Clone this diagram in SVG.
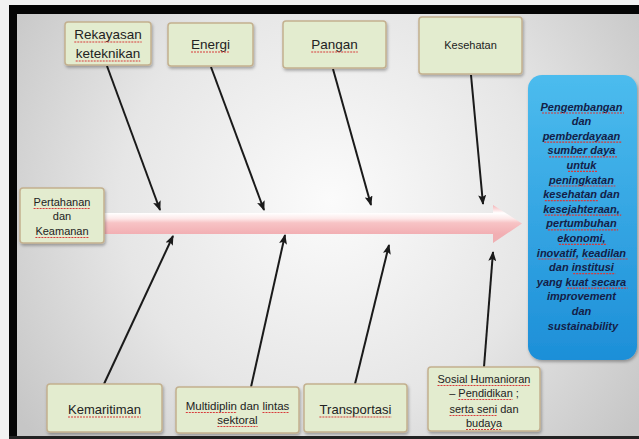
<svg xmlns="http://www.w3.org/2000/svg" width="639" height="439" viewBox="0 0 639 439">
<defs>
<radialGradient id="bg" cx="330" cy="200" r="380" gradientUnits="userSpaceOnUse">
<stop offset="0" stop-color="#fbfbfb"/>
<stop offset="0.55" stop-color="#e6e6e6"/>
<stop offset="1" stop-color="#c6c6c6"/>
</radialGradient>
<linearGradient id="arr" x1="0" y1="205" x2="0" y2="243" gradientUnits="userSpaceOnUse">
<stop offset="0" stop-color="#f3b4b7"/>
<stop offset="0.21" stop-color="#ffffff"/>
<stop offset="0.36" stop-color="#fde9e9"/>
<stop offset="0.47" stop-color="#f7c3c5"/>
<stop offset="0.76" stop-color="#f2afb3"/>
<stop offset="1" stop-color="#eeb0b3"/>
</linearGradient>
<linearGradient id="blue" x1="0" y1="75" x2="0" y2="360" gradientUnits="userSpaceOnUse">
<stop offset="0" stop-color="#4cbcee"/>
<stop offset="1" stop-color="#1d8fd8"/>
</linearGradient>
<filter id="sh" x="-10%" y="-10%" width="130%" height="130%">
<feDropShadow dx="1" dy="2" stdDeviation="1.5" flood-color="#000" flood-opacity="0.3"/>
</filter>
<marker id="ah" markerWidth="10" markerHeight="8" refX="9" refY="4" orient="auto" markerUnits="userSpaceOnUse">
<path d="M0,0 L10,4 L0,8 L2,4 Z" fill="#1a1a1a"/>
</marker>
<style>
.box{fill:#e3eccf;stroke:#c3b08f;stroke-width:1.5;filter:url(#sh)}
.t{font-family:"Liberation Sans",Arial,sans-serif;fill:#222;text-anchor:middle}
.b{font-family:"Liberation Sans",Arial,sans-serif;fill:#142047;text-anchor:middle;font-weight:bold;font-style:italic;font-size:11px}
.sp{stroke:#d83a3a;stroke-width:1.2;stroke-dasharray:2 1;fill:none}
.ln{stroke:#1a1a1a;stroke-width:2;fill:none;marker-end:url(#ah)}
</style>
</defs>
<rect x="0" y="0" width="639" height="439" fill="#f2f2f2"/>
<rect x="17" y="14" width="622" height="422" fill="url(#bg)"/>
<rect x="9" y="5" width="630" height="9" fill="#050505"/>
<rect x="9" y="5" width="8" height="434" fill="#050505"/>
<rect x="9" y="436" width="630" height="3" fill="#222"/>

<g id="spine">
<path d="M104,213 L493,213 L493,205 L522,223.5 L493,243 L493,234 L104,234 Z" fill="url(#arr)"/>
</g>

<g id="connectors">
<line class="ln" x1="107" y1="66" x2="160" y2="210"/>
<line class="ln" x1="211" y1="67" x2="264" y2="210"/>
<line class="ln" x1="333" y1="69" x2="371" y2="205"/>
<line class="ln" x1="471" y1="75" x2="483" y2="204"/>
<line class="ln" x1="104" y1="384" x2="173" y2="236"/>
<line class="ln" x1="251" y1="387" x2="285" y2="235"/>
<line class="ln" x1="355" y1="384" x2="389" y2="245"/>
<line class="ln" x1="484" y1="367" x2="493" y2="252"/>
</g>

<g id="rekayasan">
<rect class="box" x="65" y="22" width="86" height="43" rx="3"/>
<text class="t" font-size="13.5"><tspan x="108" y="39">Rekayasan</tspan><tspan x="108" y="58">keteknikan</tspan></text>
<path class="sp" d="M74.3,42 H141.7 M75.7,61 H140.3"/>
</g>
<g id="energi">
<rect class="box" x="168" y="23" width="85" height="43" rx="3"/>
<text class="t" font-size="13.5" x="210.5" y="49">Energi</text>
<path class="sp" d="M191,52 H230"/>
</g>
<g id="pangan">
<rect class="box" x="283" y="21" width="103" height="47" rx="3"/>
<text class="t" font-size="13.5" x="334.5" y="49">Pangan</text>
<path class="sp" d="M311.2,52 H357.8"/>
</g>
<g id="kesehatan">
<rect class="box" x="419" y="17" width="103" height="57" rx="3"/>
<text class="t" font-size="11" x="470.5" y="49">Kesehatan</text>
</g>
<g id="pertahanan">
<rect class="box" x="20" y="188" width="84" height="55" rx="3"/>
<text class="t" font-size="11"><tspan x="62" y="206">Pertahanan</tspan><tspan x="62" y="220">dan</tspan><tspan x="62" y="235">Keamanan</tspan></text>
<path class="sp" d="M33.6,208.5 H90.5 M35.4,237.5 H88.6"/>
</g>
<g id="kemaritiman">
<rect class="box" x="47" y="384" width="115" height="48" rx="3"/>
<text class="t" font-size="13" x="104.5" y="414">Kemaritiman</text>
<path class="sp" d="M68,417 H141"/>
</g>
<g id="multidiplin">
<rect class="box" x="176" y="387" width="123" height="46" rx="3"/>
<text class="t" font-size="11.5"><tspan x="237.5" y="410">Multidiplin dan lintas</tspan><tspan x="237.5" y="424">sektoral</tspan></text>
<path class="sp" d="M185.8,412.5 H236.9 M262.5,412.5 H289.3 M217.4,426.5 H257.6"/>
</g>
<g id="transportasi">
<rect class="box" x="304" y="384" width="103" height="48" rx="3"/>
<text class="t" font-size="13" x="355.5" y="414">Transportasi</text>
<path class="sp" d="M319.4,417 H391.6"/>
</g>
<g id="sosial">
<rect class="box" x="428" y="367" width="112" height="64" rx="3"/>
<text class="t" font-size="11"><tspan x="484" y="383">Sosial Humanioran</tspan><tspan x="484" y="397">– Pendidikan ;</tspan><tspan x="484" y="413">serta seni dan</tspan><tspan x="484" y="427">budaya</tspan></text>
<path class="sp" d="M437.5,385.5 H530.5 M458.3,399.5 H512.7 M449.5,415.5 H497.2 M466,429.5 H502"/>
</g>
<g id="tujuan">
<rect x="528" y="75" width="109" height="285" rx="14" fill="url(#blue)" filter="url(#sh)"/>
<text class="b">
<tspan x="583" y="110.5">Pengembangan</tspan>
<tspan x="583" y="125.1">dan</tspan>
<tspan x="583" y="139.7">pemberdayaan</tspan>
<tspan x="583" y="154.3">sumber daya</tspan>
<tspan x="583" y="168.9">untuk</tspan>
<tspan x="583" y="183.5">peningkatan</tspan>
<tspan x="583" y="198.1">kesehatan dan</tspan>
<tspan x="583" y="212.7">kesejahteraan,</tspan>
<tspan x="583" y="227.3">pertumbuhan</tspan>
<tspan x="583" y="241.9">ekonomi,</tspan>
<tspan x="583" y="256.5">inovatif, keadilan</tspan>
<tspan x="583" y="271.1">dan institusi</tspan>
<tspan x="583" y="285.7">yang kuat secara</tspan>
<tspan x="583" y="300.3">improvement</tspan>
<tspan x="583" y="314.9">dan</tspan>
<tspan x="583" y="329.5">sustainability</tspan>
</text>
<path class="sp" d="M542,113 H624 M544.2,142.2 H621.8 M549.1,156.8 H616.9 M568,171.4 H598 M550.7,186 H615.3 M544.8,200.6 H598.6 M544.8,215.2 H621.2 M547.9,229.8 H618.1 M558.9,244.4 H607.1 M538.4,259 H577.5 M583.6,259 H627.7 M573.2,273.6 H615.4 M567.1,288.2 H627.7"/>
</g>
</svg>
